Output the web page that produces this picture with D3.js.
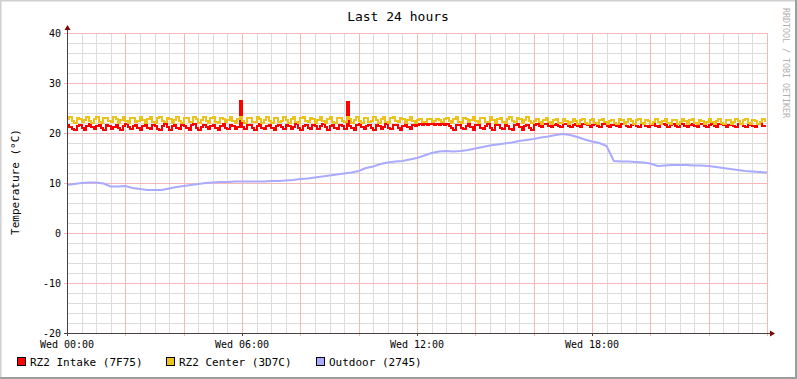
<!DOCTYPE html>
<html><head><meta charset="utf-8">
<script src="https://cdn.jsdelivr.net/npm/d3@7"></script>
<style>
body{margin:0;background:#fff}
svg{display:block}
text{font-family:"DejaVu Sans Mono",monospace}
</style>
</head><body>
<svg id="chart" width="797" height="379"></svg>
<script>
// ---------- DATA ----------
const title = "Last 24 hours";
const yAxisTitle = "Temperature (°C)";
const watermark = "RRDTOOL / TOBI OETIKER";
const xTickHours = [0, 6, 12, 18];
const xTickLabels = ["Wed 00:00", "Wed 06:00", "Wed 12:00", "Wed 18:00"];
const yTickValues = [-20, -10, 0, 10, 20, 30, 40];
const seriesNames = ["RZ2 Intake (7F75)", "RZ2 Center (3D7C)", "Outdoor (2745)"];

// 5-minute samples from 00:00
const intake = [
21.6,21.3,20.8,20.6,21.5,21.7,21.1,20.7,21.4,21.8,21.2,20.8,
21.5,21.6,21.0,20.7,21.6,21.4,20.9,21.3,21.7,21.1,20.7,21.5,
21.8,21.2,20.8,21.4,21.7,21.0,20.6,21.5,21.6,21.1,20.8,21.6,
21.4,20.9,20.6,21.5,21.8,21.2,20.7,21.4,21.7,21.0,20.8,21.6,
21.5,21.0,20.7,21.6,21.8,21.1,20.6,21.3,21.7,21.2,20.9,21.5,
21.7,21.1,20.7,21.4,21.8,21.0,20.8,21.6,21.5,20.9,21.3,26.5,
21.2,20.8,21.6,21.7,21.0,20.7,21.5,21.8,21.1,20.8,21.4,21.6,
21.0,20.6,21.5,21.7,21.2,20.8,21.6,21.4,20.9,21.3,21.8,21.1,
20.7,21.5,21.7,21.0,20.8,21.6,21.5,20.9,21.4,21.8,21.2,20.7,
21.5,21.7,21.1,20.8,21.6,21.4,20.9,26.3,21.5,21.0,20.7,21.6,
21.8,21.2,20.8,21.5,21.7,21.0,20.7,21.6,21.5,20.9,21.3,21.8,
21.1,20.8,21.6,21.7,21.0,20.7,21.5,21.8,21.2,20.8,21.6,21.5,
21.6,21.8,21.7,21.9,21.6,21.8,21.9,21.7,21.8,21.6,21.9,21.7,
21.8,21.5,21.0,20.7,21.6,21.7,21.1,20.8,21.5,21.8,21.2,20.7,
21.6,21.7,21.0,20.8,21.5,21.8,21.1,20.7,21.6,21.6,21.0,20.8,
21.7,21.5,20.9,20.7,21.6,21.8,21.2,20.6,21.5,21.7,21.0,20.7,
21.7,21.9,21.4,21.3,21.8,21.9,21.5,21.3,21.7,21.9,21.4,21.3,
21.8,21.9,21.5,21.3,21.7,21.9,21.4,21.3,21.8,21.9,21.6,21.3,
21.7,21.9,21.4,21.3,21.8,21.9,21.5,21.3,21.7,21.9,21.4,21.3,
21.8,21.9,21.5,21.3,21.7,21.9,21.4,21.3,21.8,21.9,21.5,21.3,
21.7,21.9,21.4,21.3,21.8,21.9,21.6,21.3,21.7,21.9,21.4,21.3,
21.8,21.9,21.5,21.3,21.7,21.9,21.4,21.3,21.8,21.9,21.5,21.3,
21.7,21.9,21.4,21.3,21.8,21.9,21.6,21.3,21.7,21.9,21.4,21.3,
21.8,21.9,21.5,21.3,21.7,21.9,21.4,21.3,21.8,21.9,21.5,21.3
];
const center = [
22.8,23.2,22.4,22.1,23.1,22.9,22.2,22.6,23.3,22.5,22.1,22.9,
23.2,22.3,22.0,23.0,23.1,22.4,22.2,23.2,22.8,22.1,22.7,23.3,
22.5,22.1,23.1,23.0,22.2,22.4,23.3,22.7,22.0,22.9,23.2,22.3,
22.1,23.0,23.2,22.4,22.2,23.1,22.8,22.1,22.6,23.3,22.5,22.0,
23.0,23.1,22.3,22.2,23.2,22.9,22.1,22.7,23.3,22.4,22.1,23.0,
23.2,22.3,22.0,23.1,22.8,22.2,22.6,23.3,22.5,22.1,22.9,23.2,
22.4,22.1,23.0,23.1,22.3,22.2,23.2,22.8,22.1,22.7,23.3,22.4,
22.0,23.1,23.0,22.2,22.4,23.3,22.6,22.1,22.9,23.2,22.3,22.1,
23.0,23.2,22.4,22.2,23.1,22.8,22.1,22.6,23.3,22.5,22.0,22.9,
23.2,22.3,22.1,23.0,23.1,22.4,22.2,23.2,22.8,22.1,22.7,23.3,
22.5,22.1,23.1,23.0,22.2,22.4,23.3,22.7,22.0,22.9,23.2,22.3,
22.1,23.0,23.2,22.4,22.2,23.1,22.8,22.1,22.6,23.3,22.5,22.0,
22.6,22.9,22.3,22.2,22.8,22.9,22.3,22.4,22.9,22.6,22.2,22.8,
23.0,22.4,22.1,22.9,23.2,22.3,22.1,23.0,22.8,22.2,22.6,23.2,
22.4,22.1,23.0,23.1,22.2,22.3,23.2,22.7,22.1,22.8,23.1,22.3,
22.1,22.9,23.2,22.4,22.2,23.1,22.8,22.1,22.6,23.2,22.5,22.1,
22.5,22.9,22.3,21.9,22.6,23.0,22.2,21.9,22.7,22.8,22.1,22.0,
22.8,22.5,21.9,22.3,22.9,22.4,21.8,22.6,22.9,22.1,21.9,22.7,
22.8,22.0,21.9,22.6,22.9,22.2,21.8,22.5,22.7,22.1,21.9,22.8,
22.6,21.9,22.2,22.9,22.4,21.8,22.6,22.8,22.0,21.9,22.7,22.5,
21.9,22.3,22.8,22.3,21.8,22.5,22.9,22.1,21.9,22.7,22.6,21.9,
22.2,22.9,22.4,21.8,22.6,22.8,22.0,21.9,22.7,22.5,21.8,22.3,
22.9,22.2,21.8,22.5,22.8,22.1,21.9,22.7,22.6,21.9,22.2,22.9,
22.4,21.8,22.6,22.8,22.0,21.9,22.7,22.5,21.8,22.3,22.9,22.2
];
// 15-minute samples from 00:00 to 24:00
const outdoor = [
9.6,9.8,10.0,10.1,10.1,9.9,9.3,9.3,
9.4,9.0,8.8,8.6,8.6,8.6,8.9,9.2,
9.4,9.6,9.8,10.0,10.1,10.2,10.2,10.3,
10.3,10.3,10.3,10.3,10.4,10.4,10.5,10.6,
10.8,10.9,11.1,11.3,11.5,11.7,11.9,12.1,
12.4,13.0,13.3,13.8,14.1,14.3,14.4,14.7,
15.0,15.5,16.0,16.3,16.4,16.3,16.4,16.6,
16.9,17.2,17.5,17.7,17.9,18.1,18.4,18.6,
18.8,19.1,19.3,19.6,19.8,19.6,19.2,18.7,
18.3,18.0,17.4,14.4,14.3,14.3,14.2,14.1,
13.9,13.4,13.5,13.6,13.6,13.6,13.5,13.5,
13.4,13.2,13.0,12.8,12.6,12.4,12.3,12.2,
12.1
];

// ---------- STYLE ----------
const colors = ["#ff0000", "#ecc21c", "#aaaaff"];
const W = 797, H = 379;
const plot = {left: 67, right: 767, top: 33, bottom: 333};

const svg = d3.select("#chart");
svg.append("rect").attr("width", W).attr("height", H).attr("fill", "#ffffff");
// shaded frame
svg.append("path").attr("d", `M0,${H} V0 H${W}`).attr("fill","none").attr("stroke","#cfcfcf").attr("stroke-width",3);
svg.append("path").attr("d", `M${W},0 V${H} H0`).attr("fill","none").attr("stroke","#9e9e9e").attr("stroke-width",4);

const x = d3.scaleLinear().domain([0, 24]).range([plot.left, plot.right]);
const y = d3.scaleLinear().domain([-20, 40]).range([plot.bottom, plot.top]);

const grid = svg.append("g").attr("shape-rendering", "crispEdges");
// minor grid
d3.range(0, 24.01, 0.5).forEach(h => {
  if (h % 2 !== 0) grid.append("line").attr("x1", Math.round(x(h)) + 0.5).attr("x2", Math.round(x(h)) + 0.5)
    .attr("y1", plot.top).attr("y2", plot.bottom).attr("stroke", "#dcdcdc");
});
d3.range(-20, 40.01, 2).forEach(v => {
  if (v % 10 !== 0) grid.append("line").attr("y1", Math.round(y(v)) + 0.5).attr("y2", Math.round(y(v)) + 0.5)
    .attr("x1", plot.left).attr("x2", plot.right).attr("stroke", "#dcdcdc");
});
// major grid
d3.range(2, 24.01, 2).forEach(h => {
  grid.append("line").attr("x1", Math.round(x(h)) + 0.5).attr("x2", Math.round(x(h)) + 0.5)
    .attr("y1", plot.top).attr("y2", plot.bottom + 3).attr("stroke", "#f3b9b9");
});
yTickValues.forEach(v => {
  grid.append("line").attr("y1", Math.round(y(v)) + 0.5).attr("y2", Math.round(y(v)) + 0.5)
    .attr("x1", plot.left - 3).attr("x2", plot.right).attr("stroke", "#f3b9b9");
});

// lines
const line5 = d3.line().x((d, i) => x(i / 12)).y(d => y(d)).curve(d3.curveStepAfter);
const lineOut = d3.line().x((d, i) => x(i / 4)).y(d => y(d));
const lines = svg.append("g").attr("fill", "none").attr("stroke-width", 2);
lines.append("path").datum(intake).attr("d", line5).attr("stroke", colors[0]).attr("shape-rendering", "crispEdges");
lines.append("path").datum(center).attr("d", line5).attr("stroke", colors[1]).attr("shape-rendering", "crispEdges");
lines.append("path").datum(outdoor).attr("d", lineOut).attr("stroke", colors[2]);

// axes
const axisColor = "#4a4040", arrowColor = "#800000";
const ax = svg.append("g").attr("shape-rendering", "crispEdges");
ax.append("line").attr("x1", plot.left + 0.5).attr("x2", plot.left + 0.5).attr("y1", plot.bottom + 3).attr("y2", plot.top - 5).attr("stroke", axisColor);
ax.append("line").attr("x1", plot.left - 3).attr("x2", plot.right + 4).attr("y1", plot.bottom + 0.5).attr("y2", plot.bottom + 0.5).attr("stroke", axisColor);
xTickHours.forEach(h => {
  ax.append("line").attr("x1", Math.round(x(h)) + 0.5).attr("x2", Math.round(x(h)) + 0.5)
    .attr("y1", plot.bottom).attr("y2", plot.bottom + 3).attr("stroke", axisColor);
});
svg.append("path").attr("d", `M${plot.left - 2.5},${plot.top - 3} L${plot.left + 0.5},${plot.top - 8} L${plot.left + 3.5},${plot.top - 3} Z`).attr("fill", arrowColor);
svg.append("path").attr("d", `M${plot.right + 3},${plot.bottom - 2.5} L${plot.right + 8},${plot.bottom + 0.5} L${plot.right + 3},${plot.bottom + 3.5} Z`).attr("fill", arrowColor);

// tick labels
svg.append("g").selectAll("text").data(yTickValues).join("text")
  .attr("x", plot.left - 6).attr("y", d => y(d) + 3.5).attr("text-anchor", "end")
  .attr("font-size", 10).attr("fill", "#000").text(d => d);
svg.append("g").selectAll("text").data(xTickHours).join("text")
  .attr("x", d => x(d)).attr("y", 348).attr("text-anchor", "middle")
  .attr("font-size", 10).attr("fill", "#000").text((d, i) => xTickLabels[i]);

// title
svg.append("text").attr("x", 398).attr("y", 21).attr("text-anchor", "middle")
  .attr("font-size", 13).attr("fill", "#000").text(title);
// y-axis title
svg.append("text").attr("transform", "translate(19,182) rotate(-90)").attr("text-anchor", "middle")
  .attr("font-size", 11).attr("fill", "#000").text(yAxisTitle);
// watermark
svg.append("text").attr("transform", "translate(783,8) rotate(90)").attr("text-anchor", "start")
  .attr("font-size", 8.3).attr("fill", "#b0b0b0").text(watermark);

// legend
const legX = [17, 166, 316];
const leg = svg.append("g");
seriesNames.forEach((n, i) => {
  leg.append("rect").attr("x", legX[i] + 0.5).attr("y", 357.5).attr("width", 8).attr("height", 8)
    .attr("fill", colors[i]).attr("stroke", "#000").attr("stroke-width", 1);
  leg.append("text").attr("x", legX[i] + 13).attr("y", 365.5).attr("font-size", 11).attr("fill", "#000").text(n);
});
</script>
</body></html>
